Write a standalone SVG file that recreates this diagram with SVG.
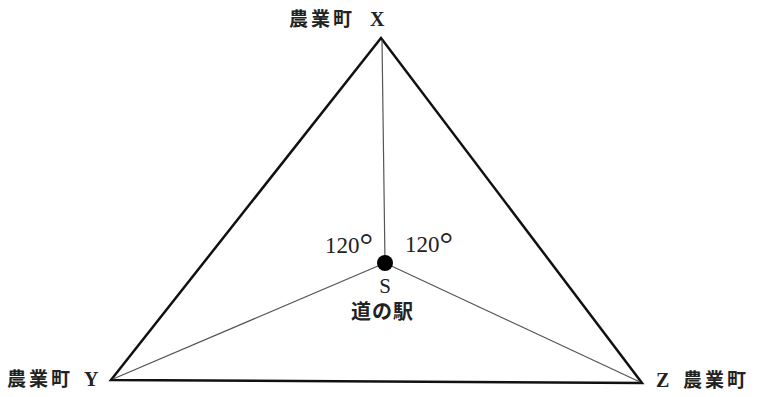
<svg xmlns="http://www.w3.org/2000/svg" width="757" height="397" viewBox="0 0 757 397">
<style>
.j{font-family:"Noto Sans CJK JP","Liberation Serif",sans-serif;font-size:19px;font-weight:bold;fill:#222;letter-spacing:3px}
.l{font-family:"Liberation Serif","Noto Sans CJK JP",serif;font-size:20px;font-weight:bold;fill:#222}
.n{font-family:"Liberation Serif","Noto Sans CJK JP",serif;font-size:23px;fill:#222}
.deg{font-size:34px}
.edge{stroke:#111;stroke-width:2.5;fill:none;stroke-linejoin:miter}
.thin{stroke:#555;stroke-width:1.2;fill:none}
</style>
<rect width="757" height="397" fill="#fff"/>
<g id="connectors">
<path class="edge" d="M381,38 L111,380 L642,383 Z"/>
<line class="thin" x1="382" y1="40" x2="385" y2="263"/>
<line class="thin" x1="385" y1="263" x2="113" y2="379"/>
<line class="thin" x1="385" y1="263" x2="640" y2="382"/>
</g>
<g id="nodeX"><text class="j" x="289" y="26">農業町</text><text class="l" x="370" y="26">X</text></g>
<g id="nodeY"><text class="j" x="7" y="386">農業町</text><text class="l" x="84" y="386">Y</text></g>
<g id="nodeZ"><text class="l" x="656" y="387">Z</text><text class="j" x="683" y="387">農業町</text></g>
<g id="nodeS">
<circle cx="385" cy="263" r="8" fill="#000"/>
<text class="n" x="385" y="293" text-anchor="middle" style="font-size:21px">S</text>
<text class="j" x="351" y="319" style="font-size:20px;letter-spacing:1px">道の駅</text>
</g>
<g id="angles">
<text class="n" x="325" y="253">120<tspan class="deg" dy="3">°</tspan></text>
<text class="n" x="405" y="252">120<tspan class="deg" dy="3">°</tspan></text>
</g>
</svg>
